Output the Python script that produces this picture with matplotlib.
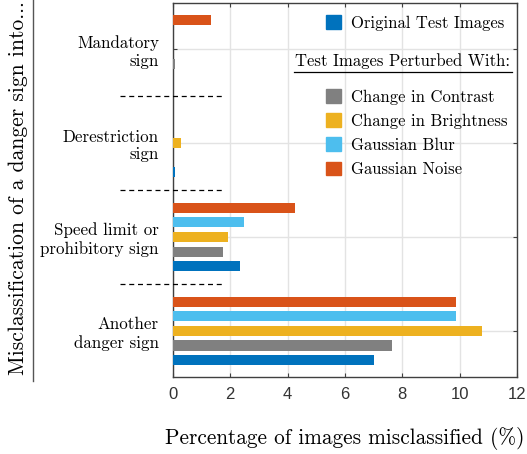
import numpy as np
import matplotlib
matplotlib.use("Agg")
from matplotlib import pyplot as plt
from matplotlib.patches import Patch

# misclassification of danger signs (%), one value per target class
categories = ["Another\ndanger sign", "Speed limit or\nprohibitory sign",
              "Derestriction\nsign", "Mandatory\nsign"]
original = [7.00, 2.34, 0.07, 0.00]
contrast = [7.63, 1.74, 0.00, 0.07]
brightness = [10.77, 1.93, 0.30, 0.00]
blur = [9.86, 2.47, 0.00, 0.00]
noise = [9.86, 4.25, 0.00, 1.34]

series = [
    ("Original Test Images", original, "#0072BD"),
    ("Change in Contrast", contrast, "#808080"),
    ("Change in Brightness", brightness, "#EDB120"),
    ("Gaussian Blur", blur, "#4DBEEE"),
    ("Gaussian Noise", noise, "#D95319"),
]

serif = "cmr10"
sans = "Liberation Sans"
axcol = "#404040"

fig = plt.figure(figsize=(5.27, 4.54), dpi=100)
ax = fig.add_axes([0.328, 0.1696, 0.653, 0.8238])

y = np.arange(len(categories))
step = 0.155
for i, (name, vals, col) in enumerate(series):
    ax.barh(y + (i - 2) * step, vals, height=0.107, color=col, zorder=3)

ax.set_xlim(0, 12)
ax.set_ylim(-0.49, 3.49)
ax.set_xticks(range(0, 13, 2))
ax.set_yticks(y)
ax.set_yticklabels(categories, family=serif, fontsize=12.2, ha="right",
                   multialignment="right")
for lbl in ax.get_xticklabels():
    lbl.set_family(sans)
    lbl.set_fontsize(12)
    lbl.set_color("#333333")

ax.tick_params(axis="both", direction="in", length=3, width=0.8,
               color=axcol, top=True, right=True)
ax.tick_params(axis="x", pad=7)
ax.tick_params(axis="y", pad=10, labelcolor="black")
for s in ax.spines.values():
    s.set_color(axcol)
    s.set_linewidth(1.0)
ax.grid(True, color="#e3e3e3", linewidth=1.0, zorder=0)
ax.set_axisbelow(True)

# dashed separators between the groups, running into the left margin
for yy in [0.5, 1.5, 2.5]:
    ax.plot([-1.85, 1.71], [yy, yy], color="black", lw=0.9,
            dashes=(4, 3), clip_on=False, zorder=4)

ax.set_xlabel("Percentage of images misclassified (%)", family=serif,
              fontsize=15.3, labelpad=18)

fig.text(0.034, 0.586, "Misclassification of a danger sign into...",
         family=serif, fontsize=15.5, rotation=90, ha="center", va="center")
fig.add_artist(plt.Line2D([0.063, 0.063], [0.161, 1.0], color="#555555",
                          lw=1.0, transform=fig.transFigure))

# legend: original images first, then the perturbations under a header
h0 = [Patch(color=series[0][2], label=series[0][0])]
leg1 = ax.legend(handles=h0, loc="upper left", bbox_to_anchor=(0.445, 0.967),
                 frameon=False, borderpad=0, borderaxespad=0,
                 handlelength=0.9, handleheight=0.9, handletextpad=0.6,
                 prop={"family": serif, "size": 12})
ax.add_artist(leg1)

ax.text(0.355, 0.845, "Test Images Perturbed With:", transform=ax.transAxes,
        family=serif, fontsize=12, ha="left", va="center")
ax.plot([0.352, 0.985], [0.8155, 0.8155], color="black", lw=0.9,
        transform=ax.transAxes, zorder=4)

h1 = [Patch(color=c, label=n) for n, v, c in series[1:]]
ax.legend(handles=h1, loc="upper left", bbox_to_anchor=(0.445, 0.770),
          frameon=False, borderpad=0, borderaxespad=0, labelspacing=0.51,
          handlelength=0.9, handleheight=0.9, handletextpad=0.6,
          prop={"family": serif, "size": 12})

fig.savefig("out.png", dpi=100)
